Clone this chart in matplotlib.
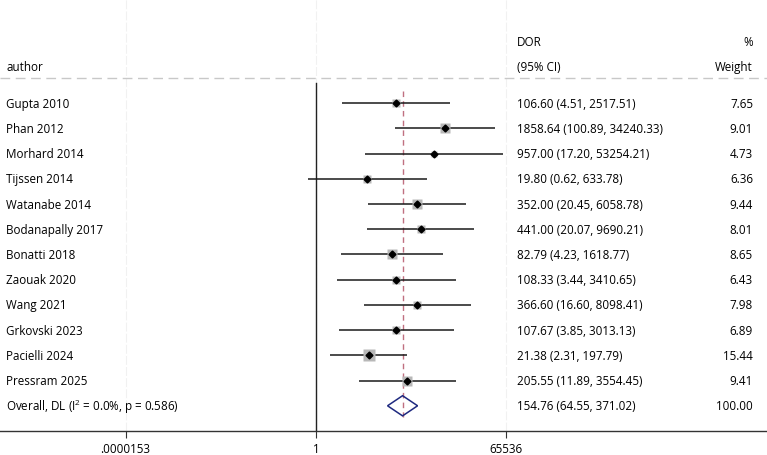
import numpy as np
import matplotlib
matplotlib.use("Agg")
import matplotlib.pyplot as plt

authors = ["Gupta 2010", "Phan 2012", "Morhard 2014", "Tijssen 2014", "Watanabe 2014",
           "Bodanapally 2017", "Bonatti 2018", "Zaouak 2020", "Wang 2021", "Grkovski 2023",
           "Pacielli 2024", "Pressram 2025"]
dor = [106.60, 1858.64, 957.00, 19.80, 352.00, 441.00, 82.79, 108.33, 366.60, 107.67, 21.38, 205.55]
lo = [4.51, 100.89, 17.20, 0.62, 20.45, 20.07, 4.23, 3.44, 16.60, 3.85, 2.31, 11.89]
hi = [2517.51, 34240.33, 53254.21, 633.78, 6058.78, 9690.21, 1618.77, 3410.65, 8098.41, 3013.13, 197.79, 3554.45]
weights = [7.65, 9.01, 4.73, 6.36, 9.44, 8.01, 8.65, 6.43, 7.98, 6.89, 15.44, 9.41]
overall_label = "Overall, DL (I$^2$ = 0.0%, p = 0.586)"
overall = (154.76, 64.55, 371.02)
overall_weight = 100.00
tick_vals = [2.0**-16, 1, 65536]
tick_labels = [".0000153", "1", "65536"]

plt.rcParams['font.family'] = ['Open Sans', 'DejaVu Sans']
plt.rcParams['mathtext.fontset'] = 'custom'
plt.rcParams['mathtext.rm'] = 'Open Sans'
plt.rcParams['mathtext.it'] = 'Open Sans'
FS = 8.4

W, H = 767, 456
fig = plt.figure(figsize=(W/100, H/100), dpi=100)
ax = fig.add_axes([0, 24/H, 1, 1 - 24/H])
ax.set_xscale('log', base=2)
px_per_unit = 11.9
x0 = 316
ax.set_xlim(2.0**(-x0/px_per_unit), 2.0**((W - x0)/px_per_unit))
ax.set_ylim(13.0, -4.13)

n = len(authors)
rows = np.arange(n)

# light vertical grid lines
for t in tick_vals:
    ax.axvline(t, color='#f1f1f1', lw=0.8, ls=(0, (8, 2)), zorder=0)

# separator dashed line
ax.axhline(-1.0, color='#c8c8c8', lw=1.0, ls=(0, (7, 4)), zorder=1)

# null line
ax.plot([1, 1], [-0.8, 13.0], color='#222222', lw=1.0, zorder=2)

# overall dashed line
ax.plot([overall[0], overall[0]], [-0.5, n + 0.45], color='#c07080', lw=1.0,
        ls=(0, (4, 3)), zorder=2)

# CI lines
ax.hlines(rows, lo, hi, color='#1a1a1a', lw=1.1, zorder=3)

# weight squares
ms = 8.9 * np.sqrt(np.array(weights) / 15.44)
for r, d, m in zip(rows, dor, ms):
    ax.plot([d], [r], marker='s', ms=m, color='#b8b8b8', mec='none', zorder=4)
ax.plot(dor, rows, 'D', ms=3.5, color='black', zorder=5, ls='none')

# overall diamond
yo = n
ax.fill([overall[1], overall[0], overall[2], overall[0], overall[1]],
        [yo, yo - 0.4, yo, yo + 0.4, yo], facecolor='none', edgecolor='#1f2a80', lw=1.1, zorder=6)

# text columns
tr = ax.get_yaxis_transform()
xa = 6 / W
xd = 517 / W
xw = 753 / W
for r, a, d, l, h, w in zip(rows, authors, dor, lo, hi, weights):
    ax.text(xa, r, a, transform=tr, va='center', ha='left', fontsize=FS)
    ax.text(xd, r, f"{d:.2f} ({l:.2f}, {h:.2f})", transform=tr, va='center', ha='left', fontsize=FS)
    ax.text(xw, r, f"{w:.2f}", transform=tr, va='center', ha='right', fontsize=FS)
ax.text(xa, yo, overall_label, transform=tr, va='center', ha='left', fontsize=FS)
ax.text(xd, yo, f"{overall[0]:.2f} ({overall[1]:.2f}, {overall[2]:.2f})", transform=tr,
        va='center', ha='left', fontsize=FS)
ax.text(xw, yo, f"{overall_weight:.2f}", transform=tr, va='center', ha='right', fontsize=FS)

ax.text(xa, -1.47, "author", transform=tr, va='center', ha='left', fontsize=FS)
ax.text(xd, -2.46, "DOR", transform=tr, va='center', ha='left', fontsize=FS)
ax.text(xd, -1.47, "(95% CI)", transform=tr, va='center', ha='left', fontsize=FS)
ax.text(xw, -2.46, "%", transform=tr, va='center', ha='right', fontsize=FS)
ax.text(xw, -1.47, "Weight", transform=tr, va='center', ha='right', fontsize=FS)

# axes styling
for s in ['top', 'left', 'right']:
    ax.spines[s].set_visible(False)
ax.spines['bottom'].set_color('#333333')
ax.spines['bottom'].set_linewidth(1.0)
ax.set_yticks([])
ax.set_xticks(tick_vals)
ax.set_xticklabels(tick_labels, fontsize=FS)
ax.xaxis.set_minor_locator(matplotlib.ticker.NullLocator())
ax.tick_params(axis='x', length=5, width=0.8, color='#333333', pad=3)

fig.savefig("out.png", dpi=100)
